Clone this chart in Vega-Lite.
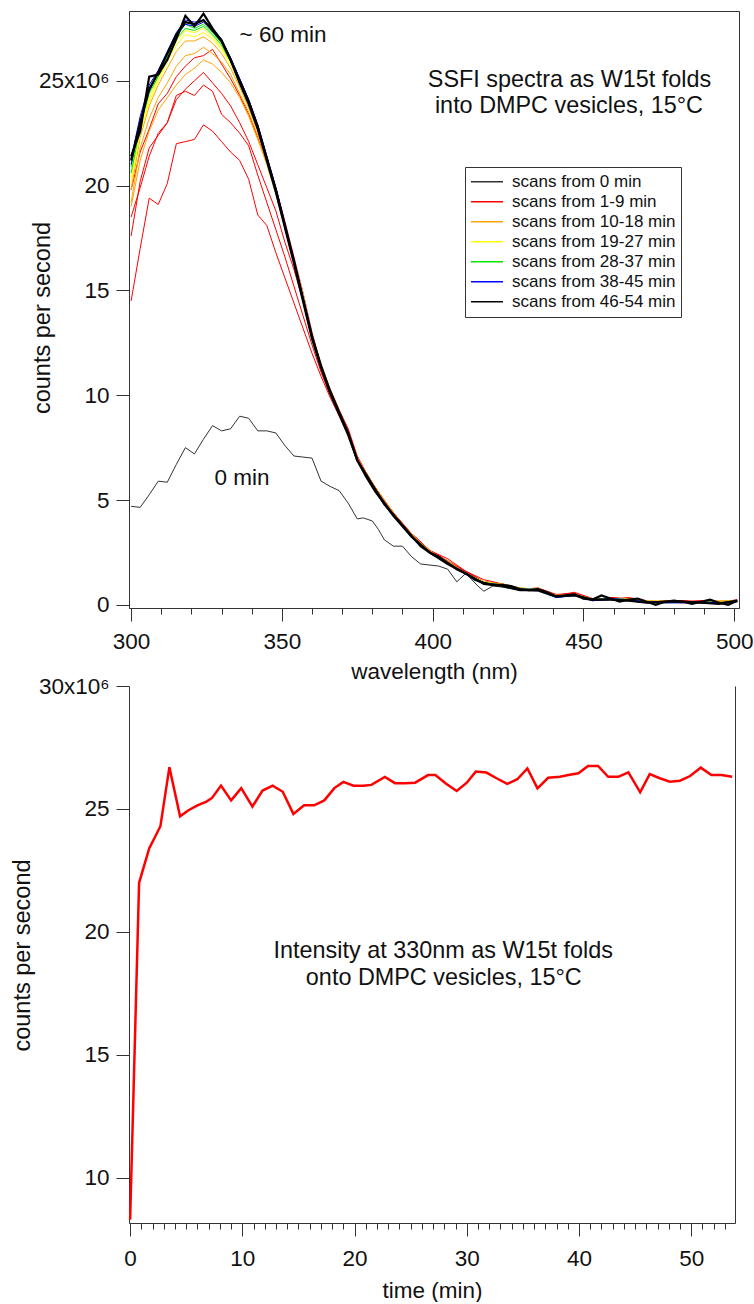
{
"$schema":"https://vega.github.io/schema/vega-lite/v6.json",
"autosize":{"type":"pad"},
"padding":{"left":10,"top":8,"right":0,"bottom":0},
"bounds":"flush",
"spacing":78,
"config":{"font":"Liberation Sans","view":{"stroke":null},
"axis":{"grid":false,"domainColor":"#333","tickColor":"#333","labelColor":"#111","titleColor":"#111","labelFontSize":22.5,"titleFontSize":22.5,"titleFontWeight":"normal","labelFont":"Liberation Sans","titleFont":"Liberation Sans","tickSize":13,"labelOverlap":false,"labelBound":false,"labelFlush":false}},
"datasets":{
"grp":[{"c":"k0","g":"0"},{"c":"r1","g":"1-9"},{"c":"r2","g":"1-9"},{"c":"r3","g":"1-9"},{"c":"r4","g":"1-9"},{"c":"o0","g":"10-18"},{"c":"o1","g":"10-18"},{"c":"o2","g":"10-18"},{"c":"y1","g":"19-27"},{"c":"y2","g":"19-27"},{"c":"g1","g":"28-37"},{"c":"g2","g":"28-37"},{"c":"b1","g":"38-45"},{"c":"b2","g":"38-45"},{"c":"k1","g":"46-54"},{"c":"k2","g":"46-54"}],
"spec":[
{"c":"k0","w":300,"v":4.7},{"c":"k0","w":303,"v":4.65},{"c":"k0","w":306,"v":5.25},{"c":"k0","w":309,"v":5.9},{"c":"k0","w":312,"v":5.85},{"c":"k0","w":315,"v":6.7},{"c":"k0","w":318,"v":7.5},{"c":"k0","w":321,"v":7.2},{"c":"k0","w":324,"v":7.9},{"c":"k0","w":327,"v":8.55},{"c":"k0","w":330,"v":8.3},{"c":"k0","w":333,"v":8.4},{"c":"k0","w":336,"v":9.0},{"c":"k0","w":339,"v":8.9},{"c":"k0","w":342,"v":8.3},{"c":"k0","w":345,"v":8.3},{"c":"k0","w":348,"v":8.2},{"c":"k0","w":351,"v":7.6},{"c":"k0","w":354,"v":7.1},{"c":"k0","w":357,"v":7.05},{"c":"k0","w":360,"v":7.0},{"c":"k0","w":363,"v":5.9},{"c":"k0","w":366,"v":5.65},{"c":"k0","w":369,"v":5.45},{"c":"k0","w":372,"v":4.85},{"c":"k0","w":375,"v":4.1},{"c":"k0","w":377,"v":4.15},{"c":"k0","w":380,"v":4.0},{"c":"k0","w":382,"v":3.6},{"c":"k0","w":384,"v":3.1},{"c":"k0","w":387,"v":2.8},{"c":"k0","w":390,"v":2.8},{"c":"k0","w":393,"v":2.3},{"c":"k0","w":396,"v":1.95},{"c":"k0","w":402,"v":1.85},{"c":"k0","w":405,"v":1.7},{"c":"k0","w":408,"v":1.1},{"c":"k0","w":411,"v":1.5},{"c":"k0","w":415,"v":0.9},{"c":"k0","w":417,"v":0.65},{"c":"k0","w":420,"v":0.9},{"c":"k0","w":423,"v":0.85},{"c":"k0","w":429,"v":0.7},{"c":"k0","w":435,"v":0.65},{"c":"k0","w":441,"v":0.35},{"c":"k0","w":447,"v":0.45},{"c":"k0","w":453,"v":0.2},{"c":"k0","w":459,"v":0.25},{"c":"k0","w":465,"v":0.2},{"c":"k0","w":471,"v":0.1},{"c":"k0","w":477,"v":0.1},{"c":"k0","w":483,"v":0.1},{"c":"k0","w":489,"v":0.1},{"c":"k0","w":495,"v":0.05},{"c":"k0","w":501,"v":0.15},
{"c":"r1","w":300,"v":14.5},{"c":"r1","w":303,"v":17.0},{"c":"r1","w":306,"v":19.4},{"c":"r1","w":309,"v":19.1},{"c":"r1","w":312,"v":20.1},{"c":"r1","w":315,"v":22.0},{"c":"r1","w":318,"v":22.1},{"c":"r1","w":321,"v":22.2},{"c":"r1","w":324,"v":22.9},{"c":"r1","w":327,"v":22.6},{"c":"r1","w":330,"v":22.1},{"c":"r1","w":333,"v":21.6},{"c":"r1","w":336,"v":21.2},{"c":"r1","w":339,"v":20.3},{"c":"r1","w":342,"v":18.6},{"c":"r1","w":345,"v":18.1},{"c":"r1","w":348,"v":16.8},{"c":"r1","w":351,"v":15.6},{"c":"r1","w":354,"v":14.4},{"c":"r1","w":357,"v":13.2},{"c":"r1","w":360,"v":12.0},{"c":"r1","w":363,"v":10.9},{"c":"r1","w":366,"v":9.9},{"c":"r1","w":369,"v":9.0},{"c":"r1","w":372,"v":8.1},{"c":"r1","w":375,"v":7.0},{"c":"r1","w":378,"v":6.3},{"c":"r1","w":381,"v":5.6},{"c":"r1","w":387,"v":4.4},{"c":"r1","w":393,"v":3.4},{"c":"r1","w":399,"v":2.6},{"c":"r1","w":405,"v":2.2},{"c":"r1","w":411,"v":1.6},{"c":"r1","w":417,"v":1.1},{"c":"r1","w":423,"v":1.0},{"c":"r1","w":429,"v":0.8},{"c":"r1","w":435,"v":0.7},{"c":"r1","w":441,"v":0.45},{"c":"r1","w":447,"v":0.6},{"c":"r1","w":453,"v":0.3},{"c":"r1","w":459,"v":0.25},{"c":"r1","w":465,"v":0.35},{"c":"r1","w":471,"v":0.2},{"c":"r1","w":477,"v":0.1},{"c":"r1","w":483,"v":0.2},{"c":"r1","w":489,"v":0.1},{"c":"r1","w":495,"v":0.15},{"c":"r1","w":501,"v":0.2},
{"c":"r2","w":300,"v":17.6},{"c":"r2","w":303,"v":20.2},{"c":"r2","w":306,"v":21.8},{"c":"r2","w":309,"v":22.4},{"c":"r2","w":312,"v":23.0},{"c":"r2","w":315,"v":24.3},{"c":"r2","w":318,"v":24.5},{"c":"r2","w":321,"v":24.3},{"c":"r2","w":324,"v":24.8},{"c":"r2","w":327,"v":24.5},{"c":"r2","w":330,"v":23.4},{"c":"r2","w":333,"v":23.0},{"c":"r2","w":336,"v":22.5},{"c":"r2","w":339,"v":21.9},{"c":"r2","w":342,"v":20.5},{"c":"r2","w":345,"v":19.2},{"c":"r2","w":348,"v":17.9},{"c":"r2","w":351,"v":16.6},{"c":"r2","w":354,"v":15.2},{"c":"r2","w":357,"v":13.8},{"c":"r2","w":360,"v":12.4},{"c":"r2","w":363,"v":11.1},{"c":"r2","w":366,"v":10.0},{"c":"r2","w":369,"v":9.1},{"c":"r2","w":372,"v":8.3},{"c":"r2","w":375,"v":7.0},{"c":"r2","w":378,"v":6.1},{"c":"r2","w":381,"v":5.4},{"c":"r2","w":387,"v":4.2},{"c":"r2","w":393,"v":3.4},{"c":"r2","w":399,"v":2.6},{"c":"r2","w":405,"v":2.1},{"c":"r2","w":411,"v":1.6},{"c":"r2","w":417,"v":1.2},{"c":"r2","w":423,"v":1.0},{"c":"r2","w":429,"v":0.7},{"c":"r2","w":435,"v":0.8},{"c":"r2","w":441,"v":0.5},{"c":"r2","w":447,"v":0.55},{"c":"r2","w":453,"v":0.2},{"c":"r2","w":459,"v":0.35},{"c":"r2","w":465,"v":0.3},{"c":"r2","w":471,"v":0.1},{"c":"r2","w":477,"v":0.2},{"c":"r2","w":483,"v":0.15},{"c":"r2","w":489,"v":0.2},{"c":"r2","w":495,"v":0.1},{"c":"r2","w":501,"v":0.25},
{"c":"r3","w":300,"v":18.5},{"c":"r3","w":303,"v":19.9},{"c":"r3","w":306,"v":21.4},{"c":"r3","w":309,"v":22.5},{"c":"r3","w":312,"v":23.0},{"c":"r3","w":315,"v":24.1},{"c":"r3","w":318,"v":24.6},{"c":"r3","w":321,"v":25.0},{"c":"r3","w":324,"v":25.4},{"c":"r3","w":327,"v":24.9},{"c":"r3","w":330,"v":24.4},{"c":"r3","w":333,"v":23.8},{"c":"r3","w":336,"v":23.0},{"c":"r3","w":339,"v":22.1},{"c":"r3","w":342,"v":21.0},{"c":"r3","w":345,"v":19.9},{"c":"r3","w":348,"v":18.8},{"c":"r3","w":351,"v":17.3},{"c":"r3","w":354,"v":16.0},{"c":"r3","w":357,"v":14.5},{"c":"r3","w":360,"v":12.8},{"c":"r3","w":363,"v":11.3},{"c":"r3","w":366,"v":10.3},{"c":"r3","w":369,"v":9.3},{"c":"r3","w":372,"v":8.4},{"c":"r3","w":375,"v":7.1},{"c":"r3","w":378,"v":6.3},{"c":"r3","w":381,"v":5.5},{"c":"r3","w":387,"v":4.4},{"c":"r3","w":393,"v":3.3},{"c":"r3","w":399,"v":2.5},{"c":"r3","w":405,"v":2.1},{"c":"r3","w":411,"v":1.5},{"c":"r3","w":417,"v":1.1},{"c":"r3","w":423,"v":0.9},{"c":"r3","w":429,"v":0.8},{"c":"r3","w":435,"v":0.7},{"c":"r3","w":441,"v":0.4},{"c":"r3","w":447,"v":0.55},{"c":"r3","w":453,"v":0.3},{"c":"r3","w":459,"v":0.3},{"c":"r3","w":465,"v":0.2},{"c":"r3","w":471,"v":0.2},{"c":"r3","w":477,"v":0.15},{"c":"r3","w":483,"v":0.2},{"c":"r3","w":489,"v":0.15},{"c":"r3","w":495,"v":0.1},{"c":"r3","w":501,"v":0.15},
{"c":"r4","w":300,"v":19.8},{"c":"r4","w":303,"v":21.6},{"c":"r4","w":306,"v":22.7},{"c":"r4","w":309,"v":23.9},{"c":"r4","w":312,"v":24.4},{"c":"r4","w":315,"v":25.2},{"c":"r4","w":318,"v":25.7},{"c":"r4","w":321,"v":26.1},{"c":"r4","w":324,"v":26.2},{"c":"r4","w":327,"v":26.5},{"c":"r4","w":330,"v":25.8},{"c":"r4","w":333,"v":25.1},{"c":"r4","w":336,"v":24.3},{"c":"r4","w":339,"v":23.4},{"c":"r4","w":342,"v":22.3},{"c":"r4","w":345,"v":21.2},{"c":"r4","w":348,"v":19.9},{"c":"r4","w":351,"v":18.3},{"c":"r4","w":354,"v":16.6},{"c":"r4","w":357,"v":14.9},{"c":"r4","w":360,"v":13.0},{"c":"r4","w":363,"v":11.4},{"c":"r4","w":366,"v":10.2},{"c":"r4","w":369,"v":9.2},{"c":"r4","w":372,"v":8.2},{"c":"r4","w":375,"v":6.9},{"c":"r4","w":378,"v":6.2},{"c":"r4","w":381,"v":5.6},{"c":"r4","w":387,"v":4.3},{"c":"r4","w":393,"v":3.4},{"c":"r4","w":399,"v":2.6},{"c":"r4","w":405,"v":2.0},{"c":"r4","w":411,"v":1.6},{"c":"r4","w":417,"v":1.1},{"c":"r4","w":423,"v":1.0},{"c":"r4","w":429,"v":0.75},{"c":"r4","w":435,"v":0.8},{"c":"r4","w":441,"v":0.45},{"c":"r4","w":447,"v":0.5},{"c":"r4","w":453,"v":0.25},{"c":"r4","w":459,"v":0.35},{"c":"r4","w":465,"v":0.25},{"c":"r4","w":471,"v":0.15},{"c":"r4","w":477,"v":0.15},{"c":"r4","w":483,"v":0.1},{"c":"r4","w":489,"v":0.2},{"c":"r4","w":495,"v":0.1},{"c":"r4","w":501,"v":0.2},
{"c":"o0","w":300,"v":19.0},{"c":"o0","w":303,"v":21.2},{"c":"o0","w":306,"v":22.6},{"c":"o0","w":309,"v":23.6},{"c":"o0","w":312,"v":24.2},{"c":"o0","w":315,"v":24.8},{"c":"o0","w":318,"v":25.3},{"c":"o0","w":321,"v":25.6},{"c":"o0","w":324,"v":26.0},{"c":"o0","w":327,"v":25.8},{"c":"o0","w":330,"v":25.4},{"c":"o0","w":333,"v":24.9},{"c":"o0","w":336,"v":24.2},{"c":"o0","w":339,"v":23.3},{"c":"o0","w":342,"v":22.2},{"c":"o0","w":345,"v":21.0},{"c":"o0","w":348,"v":19.6},{"c":"o0","w":351,"v":18.1},{"c":"o0","w":354,"v":16.5},{"c":"o0","w":357,"v":14.8},{"c":"o0","w":360,"v":12.9},{"c":"o0","w":363,"v":11.4},{"c":"o0","w":366,"v":10.2},{"c":"o0","w":369,"v":9.2},{"c":"o0","w":372,"v":8.2},{"c":"o0","w":375,"v":7.0},{"c":"o0","w":378,"v":6.3},{"c":"o0","w":381,"v":5.6},{"c":"o0","w":387,"v":4.4},{"c":"o0","w":393,"v":3.3},{"c":"o0","w":399,"v":2.6},{"c":"o0","w":405,"v":2.0},{"c":"o0","w":411,"v":1.5},{"c":"o0","w":417,"v":1.1},{"c":"o0","w":423,"v":1.0},{"c":"o0","w":429,"v":0.8},{"c":"o0","w":435,"v":0.75},{"c":"o0","w":441,"v":0.4},{"c":"o0","w":447,"v":0.5},{"c":"o0","w":453,"v":0.3},{"c":"o0","w":459,"v":0.3},{"c":"o0","w":465,"v":0.25},{"c":"o0","w":471,"v":0.15},{"c":"o0","w":477,"v":0.2},{"c":"o0","w":483,"v":0.15},{"c":"o0","w":489,"v":0.15},{"c":"o0","w":495,"v":0.2},{"c":"o0","w":501,"v":0.2},
{"c":"o1","w":300,"v":19.2},{"c":"o1","w":303,"v":21.8},{"c":"o1","w":306,"v":23.2},{"c":"o1","w":309,"v":24.2},{"c":"o1","w":312,"v":24.9},{"c":"o1","w":315,"v":25.7},{"c":"o1","w":318,"v":26.2},{"c":"o1","w":321,"v":26.3},{"c":"o1","w":324,"v":26.6},{"c":"o1","w":327,"v":26.3},{"c":"o1","w":330,"v":25.9},{"c":"o1","w":333,"v":25.3},{"c":"o1","w":336,"v":24.4},{"c":"o1","w":339,"v":23.5},{"c":"o1","w":342,"v":22.4},{"c":"o1","w":345,"v":21.1},{"c":"o1","w":348,"v":19.7},{"c":"o1","w":351,"v":18.1},{"c":"o1","w":354,"v":16.5},{"c":"o1","w":357,"v":14.8},{"c":"o1","w":360,"v":12.9},{"c":"o1","w":363,"v":11.5},{"c":"o1","w":366,"v":10.3},{"c":"o1","w":369,"v":9.3},{"c":"o1","w":372,"v":8.2},{"c":"o1","w":375,"v":6.9},{"c":"o1","w":378,"v":6.2},{"c":"o1","w":381,"v":5.5},{"c":"o1","w":387,"v":4.3},{"c":"o1","w":393,"v":3.4},{"c":"o1","w":399,"v":2.5},{"c":"o1","w":405,"v":2.1},{"c":"o1","w":411,"v":1.5},{"c":"o1","w":417,"v":1.05},{"c":"o1","w":423,"v":1.0},{"c":"o1","w":429,"v":0.75},{"c":"o1","w":435,"v":0.75},{"c":"o1","w":441,"v":0.4},{"c":"o1","w":447,"v":0.5},{"c":"o1","w":453,"v":0.25},{"c":"o1","w":459,"v":0.3},{"c":"o1","w":465,"v":0.3},{"c":"o1","w":471,"v":0.15},{"c":"o1","w":477,"v":0.15},{"c":"o1","w":483,"v":0.15},{"c":"o1","w":489,"v":0.15},{"c":"o1","w":495,"v":0.15},{"c":"o1","w":501,"v":0.2},
{"c":"o2","w":300,"v":19.8},{"c":"o2","w":303,"v":22.3},{"c":"o2","w":306,"v":23.8},{"c":"o2","w":309,"v":24.8},{"c":"o2","w":312,"v":25.6},{"c":"o2","w":315,"v":26.4},{"c":"o2","w":318,"v":26.9},{"c":"o2","w":321,"v":26.9},{"c":"o2","w":324,"v":27.1},{"c":"o2","w":327,"v":26.8},{"c":"o2","w":330,"v":26.3},{"c":"o2","w":333,"v":25.6},{"c":"o2","w":336,"v":24.7},{"c":"o2","w":339,"v":23.7},{"c":"o2","w":342,"v":22.6},{"c":"o2","w":345,"v":21.2},{"c":"o2","w":348,"v":19.8},{"c":"o2","w":351,"v":18.2},{"c":"o2","w":354,"v":16.5},{"c":"o2","w":357,"v":14.8},{"c":"o2","w":360,"v":12.9},{"c":"o2","w":363,"v":11.4},{"c":"o2","w":366,"v":10.2},{"c":"o2","w":369,"v":9.2},{"c":"o2","w":372,"v":8.2},{"c":"o2","w":375,"v":6.9},{"c":"o2","w":378,"v":6.2},{"c":"o2","w":381,"v":5.5},{"c":"o2","w":387,"v":4.3},{"c":"o2","w":393,"v":3.3},{"c":"o2","w":399,"v":2.5},{"c":"o2","w":405,"v":2.0},{"c":"o2","w":411,"v":1.5},{"c":"o2","w":417,"v":1.05},{"c":"o2","w":423,"v":0.95},{"c":"o2","w":429,"v":0.75},{"c":"o2","w":435,"v":0.8},{"c":"o2","w":441,"v":0.4},{"c":"o2","w":447,"v":0.5},{"c":"o2","w":453,"v":0.25},{"c":"o2","w":459,"v":0.3},{"c":"o2","w":465,"v":0.25},{"c":"o2","w":471,"v":0.15},{"c":"o2","w":477,"v":0.15},{"c":"o2","w":483,"v":0.15},{"c":"o2","w":489,"v":0.15},{"c":"o2","w":495,"v":0.1},{"c":"o2","w":501,"v":0.2},
{"c":"y1","w":300,"v":20.1},{"c":"y1","w":303,"v":22.5},{"c":"y1","w":306,"v":24.0},{"c":"y1","w":309,"v":25.0},{"c":"y1","w":312,"v":25.9},{"c":"y1","w":315,"v":26.7},{"c":"y1","w":318,"v":27.2},{"c":"y1","w":321,"v":27.1},{"c":"y1","w":324,"v":27.3},{"c":"y1","w":327,"v":27.0},{"c":"y1","w":330,"v":26.5},{"c":"y1","w":333,"v":25.8},{"c":"y1","w":336,"v":24.8},{"c":"y1","w":339,"v":23.8},{"c":"y1","w":342,"v":22.6},{"c":"y1","w":345,"v":21.2},{"c":"y1","w":348,"v":19.8},{"c":"y1","w":351,"v":18.2},{"c":"y1","w":354,"v":16.5},{"c":"y1","w":357,"v":14.8},{"c":"y1","w":360,"v":12.9},{"c":"y1","w":363,"v":11.4},{"c":"y1","w":366,"v":10.2},{"c":"y1","w":369,"v":9.2},{"c":"y1","w":372,"v":8.2},{"c":"y1","w":375,"v":6.9},{"c":"y1","w":378,"v":6.2},{"c":"y1","w":381,"v":5.5},{"c":"y1","w":387,"v":4.3},{"c":"y1","w":393,"v":3.3},{"c":"y1","w":399,"v":2.5},{"c":"y1","w":405,"v":2.0},{"c":"y1","w":411,"v":1.5},{"c":"y1","w":417,"v":1.1},{"c":"y1","w":423,"v":0.95},{"c":"y1","w":429,"v":0.8},{"c":"y1","w":435,"v":0.75},{"c":"y1","w":441,"v":0.45},{"c":"y1","w":447,"v":0.5},{"c":"y1","w":453,"v":0.25},{"c":"y1","w":459,"v":0.3},{"c":"y1","w":465,"v":0.25},{"c":"y1","w":471,"v":0.2},{"c":"y1","w":477,"v":0.15},{"c":"y1","w":483,"v":0.15},{"c":"y1","w":489,"v":0.15},{"c":"y1","w":495,"v":0.1},{"c":"y1","w":501,"v":0.2},
{"c":"y2","w":300,"v":20.4},{"c":"y2","w":303,"v":22.7},{"c":"y2","w":306,"v":24.2},{"c":"y2","w":309,"v":25.1},{"c":"y2","w":312,"v":26.0},{"c":"y2","w":315,"v":26.9},{"c":"y2","w":318,"v":27.4},{"c":"y2","w":321,"v":27.3},{"c":"y2","w":324,"v":27.5},{"c":"y2","w":327,"v":27.1},{"c":"y2","w":330,"v":26.6},{"c":"y2","w":333,"v":25.9},{"c":"y2","w":336,"v":24.9},{"c":"y2","w":339,"v":23.9},{"c":"y2","w":342,"v":22.7},{"c":"y2","w":345,"v":21.3},{"c":"y2","w":348,"v":19.8},{"c":"y2","w":351,"v":18.1},{"c":"y2","w":354,"v":16.4},{"c":"y2","w":357,"v":14.7},{"c":"y2","w":360,"v":12.8},{"c":"y2","w":363,"v":11.4},{"c":"y2","w":366,"v":10.2},{"c":"y2","w":369,"v":9.2},{"c":"y2","w":372,"v":8.2},{"c":"y2","w":375,"v":6.9},{"c":"y2","w":378,"v":6.2},{"c":"y2","w":381,"v":5.5},{"c":"y2","w":387,"v":4.3},{"c":"y2","w":393,"v":3.3},{"c":"y2","w":399,"v":2.5},{"c":"y2","w":405,"v":2.0},{"c":"y2","w":411,"v":1.5},{"c":"y2","w":417,"v":1.05},{"c":"y2","w":423,"v":0.95},{"c":"y2","w":429,"v":0.75},{"c":"y2","w":435,"v":0.75},{"c":"y2","w":441,"v":0.4},{"c":"y2","w":447,"v":0.5},{"c":"y2","w":453,"v":0.25},{"c":"y2","w":459,"v":0.3},{"c":"y2","w":465,"v":0.25},{"c":"y2","w":471,"v":0.15},{"c":"y2","w":477,"v":0.15},{"c":"y2","w":483,"v":0.15},{"c":"y2","w":489,"v":0.15},{"c":"y2","w":495,"v":0.1},{"c":"y2","w":501,"v":0.2},
{"c":"g1","w":300,"v":20.6},{"c":"g1","w":303,"v":22.8},{"c":"g1","w":306,"v":24.4},{"c":"g1","w":309,"v":25.2},{"c":"g1","w":312,"v":26.1},{"c":"g1","w":315,"v":27.0},{"c":"g1","w":318,"v":27.5},{"c":"g1","w":321,"v":27.4},{"c":"g1","w":324,"v":27.6},{"c":"g1","w":327,"v":27.2},{"c":"g1","w":330,"v":26.7},{"c":"g1","w":333,"v":25.9},{"c":"g1","w":336,"v":24.9},{"c":"g1","w":339,"v":23.9},{"c":"g1","w":342,"v":22.7},{"c":"g1","w":345,"v":21.3},{"c":"g1","w":348,"v":19.8},{"c":"g1","w":351,"v":18.1},{"c":"g1","w":354,"v":16.4},{"c":"g1","w":357,"v":14.6},{"c":"g1","w":360,"v":12.8},{"c":"g1","w":363,"v":11.4},{"c":"g1","w":366,"v":10.2},{"c":"g1","w":369,"v":9.2},{"c":"g1","w":372,"v":8.2},{"c":"g1","w":375,"v":6.9},{"c":"g1","w":378,"v":6.2},{"c":"g1","w":381,"v":5.5},{"c":"g1","w":387,"v":4.3},{"c":"g1","w":393,"v":3.3},{"c":"g1","w":399,"v":2.5},{"c":"g1","w":405,"v":2.0},{"c":"g1","w":411,"v":1.5},{"c":"g1","w":417,"v":1.05},{"c":"g1","w":423,"v":0.95},{"c":"g1","w":429,"v":0.75},{"c":"g1","w":435,"v":0.7},{"c":"g1","w":441,"v":0.4},{"c":"g1","w":447,"v":0.45},{"c":"g1","w":453,"v":0.25},{"c":"g1","w":459,"v":0.3},{"c":"g1","w":465,"v":0.25},{"c":"g1","w":471,"v":0.15},{"c":"g1","w":477,"v":0.1},{"c":"g1","w":483,"v":0.15},{"c":"g1","w":489,"v":0.15},{"c":"g1","w":495,"v":0.1},{"c":"g1","w":501,"v":0.2},
{"c":"g2","w":300,"v":20.9},{"c":"g2","w":303,"v":22.9},{"c":"g2","w":306,"v":24.5},{"c":"g2","w":309,"v":25.3},{"c":"g2","w":312,"v":26.2},{"c":"g2","w":315,"v":27.1},{"c":"g2","w":318,"v":27.7},{"c":"g2","w":321,"v":27.5},{"c":"g2","w":324,"v":27.7},{"c":"g2","w":327,"v":27.3},{"c":"g2","w":330,"v":26.8},{"c":"g2","w":333,"v":26.0},{"c":"g2","w":336,"v":25.0},{"c":"g2","w":339,"v":24.0},{"c":"g2","w":342,"v":22.8},{"c":"g2","w":345,"v":21.3},{"c":"g2","w":348,"v":19.8},{"c":"g2","w":351,"v":18.1},{"c":"g2","w":354,"v":16.4},{"c":"g2","w":357,"v":14.6},{"c":"g2","w":360,"v":12.8},{"c":"g2","w":363,"v":11.4},{"c":"g2","w":366,"v":10.2},{"c":"g2","w":369,"v":9.2},{"c":"g2","w":372,"v":8.2},{"c":"g2","w":375,"v":6.9},{"c":"g2","w":378,"v":6.2},{"c":"g2","w":381,"v":5.5},{"c":"g2","w":387,"v":4.3},{"c":"g2","w":393,"v":3.3},{"c":"g2","w":399,"v":2.5},{"c":"g2","w":405,"v":2.0},{"c":"g2","w":411,"v":1.5},{"c":"g2","w":417,"v":1.05},{"c":"g2","w":423,"v":0.95},{"c":"g2","w":429,"v":0.75},{"c":"g2","w":435,"v":0.75},{"c":"g2","w":441,"v":0.4},{"c":"g2","w":447,"v":0.5},{"c":"g2","w":453,"v":0.25},{"c":"g2","w":459,"v":0.3},{"c":"g2","w":465,"v":0.25},{"c":"g2","w":471,"v":0.15},{"c":"g2","w":477,"v":0.15},{"c":"g2","w":483,"v":0.15},{"c":"g2","w":489,"v":0.15},{"c":"g2","w":495,"v":0.1},{"c":"g2","w":501,"v":0.2},
{"c":"b1","w":300,"v":21.0},{"c":"b1","w":303,"v":23.1},{"c":"b1","w":306,"v":24.5},{"c":"b1","w":309,"v":25.4},{"c":"b1","w":312,"v":26.3},{"c":"b1","w":315,"v":27.2},{"c":"b1","w":318,"v":27.7},{"c":"b1","w":321,"v":27.6},{"c":"b1","w":324,"v":27.8},{"c":"b1","w":327,"v":27.4},{"c":"b1","w":330,"v":26.9},{"c":"b1","w":333,"v":26.1},{"c":"b1","w":336,"v":25.1},{"c":"b1","w":339,"v":24.1},{"c":"b1","w":342,"v":22.9},{"c":"b1","w":345,"v":21.4},{"c":"b1","w":348,"v":19.9},{"c":"b1","w":351,"v":18.2},{"c":"b1","w":354,"v":16.5},{"c":"b1","w":357,"v":14.7},{"c":"b1","w":360,"v":12.9},{"c":"b1","w":363,"v":11.4},{"c":"b1","w":366,"v":10.2},{"c":"b1","w":369,"v":9.2},{"c":"b1","w":372,"v":8.2},{"c":"b1","w":375,"v":6.9},{"c":"b1","w":378,"v":6.2},{"c":"b1","w":381,"v":5.5},{"c":"b1","w":387,"v":4.3},{"c":"b1","w":393,"v":3.3},{"c":"b1","w":399,"v":2.45},{"c":"b1","w":405,"v":2.0},{"c":"b1","w":411,"v":1.45},{"c":"b1","w":417,"v":1.0},{"c":"b1","w":423,"v":0.9},{"c":"b1","w":429,"v":0.7},{"c":"b1","w":435,"v":0.7},{"c":"b1","w":441,"v":0.35},{"c":"b1","w":447,"v":0.45},{"c":"b1","w":453,"v":0.2},{"c":"b1","w":459,"v":0.25},{"c":"b1","w":465,"v":0.2},{"c":"b1","w":471,"v":0.1},{"c":"b1","w":477,"v":0.1},{"c":"b1","w":483,"v":0.1},{"c":"b1","w":489,"v":0.1},{"c":"b1","w":495,"v":0.05},{"c":"b1","w":501,"v":0.15},
{"c":"b2","w":300,"v":21.3},{"c":"b2","w":303,"v":23.3},{"c":"b2","w":306,"v":24.8},{"c":"b2","w":309,"v":25.5},{"c":"b2","w":312,"v":26.4},{"c":"b2","w":315,"v":27.3},{"c":"b2","w":318,"v":27.9},{"c":"b2","w":321,"v":27.8},{"c":"b2","w":324,"v":27.9},{"c":"b2","w":327,"v":27.5},{"c":"b2","w":330,"v":27.0},{"c":"b2","w":333,"v":26.1},{"c":"b2","w":336,"v":25.1},{"c":"b2","w":339,"v":24.1},{"c":"b2","w":342,"v":22.9},{"c":"b2","w":345,"v":21.4},{"c":"b2","w":348,"v":19.9},{"c":"b2","w":351,"v":18.2},{"c":"b2","w":354,"v":16.5},{"c":"b2","w":357,"v":14.7},{"c":"b2","w":360,"v":12.9},{"c":"b2","w":363,"v":11.4},{"c":"b2","w":366,"v":10.2},{"c":"b2","w":369,"v":9.2},{"c":"b2","w":372,"v":8.2},{"c":"b2","w":375,"v":6.9},{"c":"b2","w":378,"v":6.2},{"c":"b2","w":381,"v":5.5},{"c":"b2","w":387,"v":4.3},{"c":"b2","w":393,"v":3.3},{"c":"b2","w":399,"v":2.5},{"c":"b2","w":405,"v":2.0},{"c":"b2","w":411,"v":1.5},{"c":"b2","w":417,"v":1.05},{"c":"b2","w":423,"v":0.95},{"c":"b2","w":429,"v":0.75},{"c":"b2","w":435,"v":0.75},{"c":"b2","w":441,"v":0.4},{"c":"b2","w":447,"v":0.5},{"c":"b2","w":453,"v":0.25},{"c":"b2","w":459,"v":0.3},{"c":"b2","w":465,"v":0.25},{"c":"b2","w":471,"v":0.15},{"c":"b2","w":477,"v":0.15},{"c":"b2","w":483,"v":0.15},{"c":"b2","w":489,"v":0.15},{"c":"b2","w":495,"v":0.1},{"c":"b2","w":501,"v":0.2},
{"c":"k2","w":300,"v":21.4},{"c":"k2","w":303,"v":22.6},{"c":"k2","w":306,"v":25.2},{"c":"k2","w":309,"v":25.3},{"c":"k2","w":312,"v":26.0},{"c":"k2","w":315,"v":27.0},{"c":"k2","w":318,"v":28.1},{"c":"k2","w":321,"v":27.6},{"c":"k2","w":324,"v":28.2},{"c":"k2","w":327,"v":27.5},{"c":"k2","w":330,"v":26.9},{"c":"k2","w":333,"v":26.0},{"c":"k2","w":336,"v":24.9},{"c":"k2","w":339,"v":23.9},{"c":"k2","w":342,"v":22.7},{"c":"k2","w":345,"v":21.2},{"c":"k2","w":348,"v":19.7},{"c":"k2","w":351,"v":18.0},{"c":"k2","w":354,"v":16.3},{"c":"k2","w":357,"v":14.5},{"c":"k2","w":360,"v":12.7},{"c":"k2","w":363,"v":11.3},{"c":"k2","w":366,"v":10.1},{"c":"k2","w":369,"v":9.1},{"c":"k2","w":372,"v":8.1},{"c":"k2","w":375,"v":6.9},{"c":"k2","w":378,"v":6.1},{"c":"k2","w":381,"v":5.4},{"c":"k2","w":387,"v":4.25},{"c":"k2","w":393,"v":3.25},{"c":"k2","w":399,"v":2.5},{"c":"k2","w":405,"v":1.95},{"c":"k2","w":411,"v":1.5},{"c":"k2","w":417,"v":1.0},{"c":"k2","w":423,"v":0.9},{"c":"k2","w":429,"v":0.7},{"c":"k2","w":435,"v":0.7},{"c":"k2","w":441,"v":0.4},{"c":"k2","w":447,"v":0.45},{"c":"k2","w":453,"v":0.25},{"c":"k2","w":459,"v":0.25},{"c":"k2","w":465,"v":0.2},{"c":"k2","w":471,"v":0.1},{"c":"k2","w":477,"v":0.15},{"c":"k2","w":483,"v":0.15},{"c":"k2","w":489,"v":0.1},{"c":"k2","w":495,"v":0.05},{"c":"k2","w":501,"v":0.2},
{"c":"k1","w":300,"v":21.2},{"c":"k1","w":303,"v":23.0},{"c":"k1","w":306,"v":24.6},{"c":"k1","w":309,"v":25.4},{"c":"k1","w":312,"v":26.3},{"c":"k1","w":315,"v":27.2},{"c":"k1","w":318,"v":27.8},{"c":"k1","w":321,"v":27.7},{"c":"k1","w":324,"v":27.9},{"c":"k1","w":327,"v":27.4},{"c":"k1","w":330,"v":26.9},{"c":"k1","w":333,"v":26.0},{"c":"k1","w":336,"v":25.0},{"c":"k1","w":339,"v":24.0},{"c":"k1","w":342,"v":22.8},{"c":"k1","w":345,"v":21.3},{"c":"k1","w":348,"v":19.8},{"c":"k1","w":351,"v":18.1},{"c":"k1","w":354,"v":16.4},{"c":"k1","w":357,"v":14.6},{"c":"k1","w":360,"v":12.8},{"c":"k1","w":363,"v":11.4},{"c":"k1","w":366,"v":10.2},{"c":"k1","w":369,"v":9.2},{"c":"k1","w":372,"v":8.2},{"c":"k1","w":375,"v":6.9},{"c":"k1","w":378,"v":6.2},{"c":"k1","w":381,"v":5.5},{"c":"k1","w":384,"v":4.8},{"c":"k1","w":387,"v":4.3},{"c":"k1","w":390,"v":3.8},{"c":"k1","w":393,"v":3.3},{"c":"k1","w":396,"v":2.8},{"c":"k1","w":399,"v":2.5},{"c":"k1","w":402,"v":2.3},{"c":"k1","w":405,"v":2.0},{"c":"k1","w":408,"v":1.7},{"c":"k1","w":411,"v":1.5},{"c":"k1","w":414,"v":1.2},{"c":"k1","w":417,"v":1.05},{"c":"k1","w":420,"v":0.95},{"c":"k1","w":423,"v":0.95},{"c":"k1","w":426,"v":0.9},{"c":"k1","w":429,"v":0.75},{"c":"k1","w":432,"v":0.7},{"c":"k1","w":435,"v":0.75},{"c":"k1","w":438,"v":0.6},{"c":"k1","w":441,"v":0.4},{"c":"k1","w":444,"v":0.45},{"c":"k1","w":447,"v":0.5},{"c":"k1","w":450,"v":0.3},{"c":"k1","w":453,"v":0.25},{"c":"k1","w":456,"v":0.45},{"c":"k1","w":459,"v":0.3},{"c":"k1","w":462,"v":0.15},{"c":"k1","w":465,"v":0.25},{"c":"k1","w":468,"v":0.3},{"c":"k1","w":471,"v":0.15},{"c":"k1","w":474,"v":0.0},{"c":"k1","w":477,"v":0.15},{"c":"k1","w":480,"v":0.2},{"c":"k1","w":483,"v":0.15},{"c":"k1","w":486,"v":0.05},{"c":"k1","w":489,"v":0.15},{"c":"k1","w":492,"v":0.25},{"c":"k1","w":495,"v":0.1},{"c":"k1","w":498,"v":0.0},{"c":"k1","w":501,"v":0.2}
],
"kin":[{"t":0.0,"v":8.3},{"t":0.8,"v":22.0},{"t":1.7,"v":23.4},{"t":2.7,"v":24.3},{"t":3.5,"v":26.7},{"t":4.45,"v":24.7},{"t":5.2,"v":24.95},{"t":6.0,"v":25.15},{"t":6.8,"v":25.3},{"t":7.3,"v":25.45},{"t":8.1,"v":25.95},{"t":9.0,"v":25.35},{"t":9.9,"v":25.85},{"t":10.9,"v":25.1},{"t":11.8,"v":25.75},{"t":12.7,"v":25.95},{"t":13.6,"v":25.7},{"t":14.55,"v":24.8},{"t":15.5,"v":25.15},{"t":16.4,"v":25.15},{"t":17.3,"v":25.35},{"t":18.2,"v":25.85},{"t":19.0,"v":26.1},{"t":19.9,"v":25.95},{"t":20.8,"v":25.95},{"t":21.5,"v":25.98},{"t":22.7,"v":26.3},{"t":23.6,"v":26.05},{"t":24.5,"v":26.05},{"t":25.4,"v":26.07},{"t":26.55,"v":26.38},{"t":27.2,"v":26.38},{"t":28.1,"v":26.05},{"t":29.1,"v":25.73},{"t":30.0,"v":26.07},{"t":30.8,"v":26.52},{"t":31.75,"v":26.48},{"t":32.65,"v":26.25},{"t":33.6,"v":26.02},{"t":34.5,"v":26.21},{"t":35.4,"v":26.65},{"t":36.3,"v":25.84},{"t":37.25,"v":26.27},{"t":38.3,"v":26.31},{"t":39.05,"v":26.38},{"t":39.95,"v":26.45},{"t":40.8,"v":26.75},{"t":41.7,"v":26.75},{"t":42.6,"v":26.31},{"t":43.5,"v":26.31},{"t":44.4,"v":26.49},{"t":45.45,"v":25.68},{"t":46.3,"v":26.42},{"t":47.2,"v":26.25},{"t":48.1,"v":26.11},{"t":49.0,"v":26.15},{"t":49.9,"v":26.34},{"t":50.85,"v":26.68},{"t":51.8,"v":26.38},{"t":52.7,"v":26.38},{"t":53.65,"v":26.31}],
"ann1":[{"w":350.4,"v":26.85,"s":"~ 60 min","f":22.5},{"w":445.4,"v":24.7,"s":"SSFI spectra as W15t folds","f":23.4},{"w":445.2,"v":23.46,"s":"into DMPC vesicles, 15°C","f":23.4},{"w":336.8,"v":5.72,"s":"0 min","f":22.5}],
"ann2":[{"t":27.9,"v":18.94,"s":"Intensity at 330nm as W15t folds"},{"t":27.95,"v":17.85,"s":"onto DMPC vesicles, 15°C"}]
},
"vconcat":[
{"width":610,"height":597,"view":{"stroke":"#333","strokeWidth":1},
"layer":[
{"data":{"name":"spec"},
"transform":[{"lookup":"c","from":{"data":{"name":"grp"},"key":"c","fields":["g"]}},{"filter":"datum.g !== '46-54'"}],
"mark":{"type":"line","strokeWidth":1},
"encoding":{
"x":{"field":"w","type":"quantitative","scale":{"domain":[299.3,501.6],"nice":false,"zero":false},
"axis":{"orient":"bottom","values":[300,350,400,450,500],"tickSize":13,"labelOverlap":false,"labelPadding":9,"title":"wavelength (nm)","titlePadding":8}},
"y":{"field":"v","type":"quantitative","scale":{"domain":[-0.15,28.33],"nice":false,"zero":false},
"axis":{"values":[0,5,10,15,20,25],"labelExpr":"datum.value === 25 ? '25x10⁶' : datum.label","labelOverlap":false,"labelPadding":7,"title":"counts per second","titleFontSize":23.5,"titleX":-79.6,"titleY":306.5,"titleBaseline":"alphabetic","titleAlign":"center","titleAngle":270}},
"color":{"field":"g","type":"nominal","scale":{"domain":["0","1-9","10-18","19-27","28-37","38-45","46-54"],"range":["#333333","#ff0000","#ffa500","#ffff00","#00e600","#0000ff","#000000"]},
"legend":{"orient":"none","legendX":336,"legendY":156,"title":null,"labelExpr":"'scans from ' + datum.label + ' min'","labelLimit":400,"symbolType":"stroke","symbolSize":1024,"symbolStrokeWidth":1.5,"labelFontSize":17,"labelFont":"Liberation Sans","labelColor":"#111","strokeColor":"#333","fillColor":"white","padding":5,"rowPadding":0,"clipHeight":19.5,"labelOffset":8}},
"detail":{"field":"c"}}},
{"data":{"name":"spec"},
"transform":[{"lookup":"c","from":{"data":{"name":"grp"},"key":"c","fields":["g"]}},{"filter":"datum.g === '46-54'"}],
"mark":{"type":"line","strokeWidth":2.2},
"encoding":{"x":{"field":"w","type":"quantitative","axis":null},"y":{"field":"v","type":"quantitative"},"color":{"field":"g","type":"nominal"},"detail":{"field":"c"}}},
{"data":{"name":"ann1"},
"mark":{"type":"text","align":"center","baseline":"alphabetic","color":"#111","font":"Liberation Sans"},
"encoding":{"x":{"field":"w","type":"quantitative","axis":{"orient":"bottom","values":[310,320,330,340,360,370,380,390,410,420,430,440,460,470,480,490],"tickSize":6,"labels":false,"domain":false,"title":null}},"y":{"field":"v","type":"quantitative"},"text":{"field":"s"},"size":{"field":"f","type":"quantitative","scale":null}}}
],
"resolve":{"axis":{"x":"independent"}}},
{"width":606,"height":537,
"layer":[
{"data":{"name":"kin"},
"mark":{"type":"line","color":"#ff0000","strokeWidth":2.5},
"encoding":{
"x":{"field":"t","type":"quantitative","scale":{"domain":[-0.1,53.9],"nice":false,"zero":false},
"axis":{"orient":"bottom","values":[0,10,20,30,40,50],"tickSize":13,"labelOverlap":false,"labelPadding":11.5,"title":"time (min)","titlePadding":9}},
"y":{"field":"v","type":"quantitative","scale":{"domain":[8.17,30],"nice":false,"zero":false},
"axis":{"values":[10,15,20,25,30],"labelExpr":"datum.value === 30 ? '30x10⁶' : datum.label","labelOverlap":false,"labelPadding":7,"title":"counts per second","titleFontSize":23.5,"titleX":-99.6,"titleY":269,"titleBaseline":"alphabetic","titleAlign":"center","titleAngle":270}}}},
{"data":{"name":"ann2"},
"mark":{"type":"text","align":"center","baseline":"alphabetic","fontSize":23.4,"color":"#111","font":"Liberation Sans"},
"encoding":{"x":{"field":"t","type":"quantitative","axis":{"orient":"bottom","values":[1,2,3,4,5,6,7,8,9,11,12,13,14,15,16,17,18,19,21,22,23,24,25,26,27,28,29,31,32,33,34,35,36,37,38,39,41,42,43,44,45,46,47,48,49,51,52,53],"tickSize":6,"labels":false,"domain":false,"title":null}},"y":{"field":"v","type":"quantitative","axis":{"orient":"right","labels":false,"ticks":false,"title":null,"domainColor":"#333"}},"text":{"field":"s"}}}
],
"resolve":{"axis":{"x":"independent","y":"independent"}}}
]
}
